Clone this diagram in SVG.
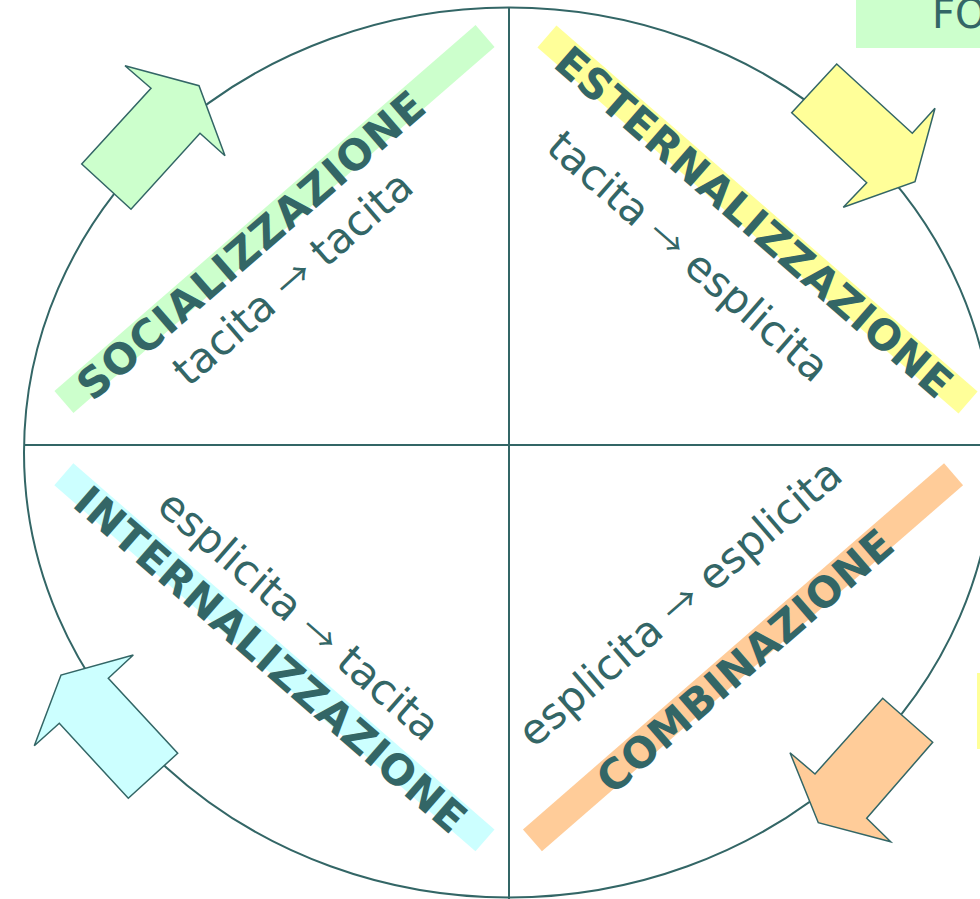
<svg xmlns="http://www.w3.org/2000/svg" width="980" height="899" viewBox="0 0 980 899">
<style>
.ln{stroke:#336666;stroke-width:2;fill:none}
.ar{stroke:#336666;stroke-width:1.5;stroke-linejoin:miter}
.b{font-family:"DejaVu Sans",Verdana,sans-serif;font-weight:bold;font-size:42px;fill:#336666}
.r{font-family:"DejaVu Sans",Verdana,sans-serif;font-size:42px;fill:#336666;text-anchor:middle}
.arw{font-family:"Noto Sans CJK SC",sans-serif;font-size:36px}
</style>
<rect width="980" height="899" fill="#ffffff"/>
<g id="frame">
<ellipse class="ln" cx="509" cy="452.5" rx="485" ry="445"/>
<line class="ln" x1="24" y1="445" x2="980" y2="445"/>
<line class="ln" x1="509" y1="7" x2="509" y2="899"/>
</g>
<g id="title">
<rect x="856" y="0" width="124" height="48" fill="#CCFFCC"/>
<text x="932" y="28" style="font-family:'DejaVu Sans',Verdana,sans-serif;font-size:40px;fill:#336666">FO</text>
</g>
<rect id="side-strip" x="977" y="673" width="3" height="76" fill="#FFFF99"/>
<g id="socializzazione" transform="translate(274.5,219) rotate(-41)">
<rect x="-279" y="-14.5" width="558" height="29" fill="#CCFFCC"/>
<text class="b" x="-257.5" y="19" textLength="445" lengthAdjust="spacing">SOCIALIZZAZIONE</text>
<text class="r" x="-25" y="71">tacita <tspan class="arw">→</tspan> tacita</text>
</g>
<g id="esternalizzazione" transform="translate(757.5,219.5) rotate(41)">
<rect x="-279" y="-14.5" width="558" height="29" fill="#FFFF99"/>
<text class="b" x="-256" y="19" textLength="510" lengthAdjust="spacing">ESTERNALIZZAZIONE</text>
<text class="r" x="-28" y="87.5">tacita <tspan class="arw">→</tspan> esplicita</text>
</g>
<g id="internalizzazione" transform="translate(274.4,657.3) rotate(41)">
<rect x="-279" y="-14.5" width="558" height="29" fill="#CCFFFF"/>
<text class="b" x="-253" y="19" textLength="503" lengthAdjust="spacing">INTERNALIZZAZIONE</text>
<text class="r" x="-9" y="-33.5">esplicita <tspan class="arw">→</tspan> tacita</text>
</g>
<g id="combinazione" transform="translate(743,657.3) rotate(-41)">
<rect x="-279" y="-14.5" width="558" height="29" fill="#FFCC99"/>
<text class="b" x="-189.5" y="19" textLength="377" lengthAdjust="spacing">COMBINAZIONE</text>
<text class="r" x="-12" y="-68">esplicita <tspan class="arw">→</tspan> esplicita</text>
</g>
<g id="connectors">
<polygon class="ar" fill="#CCFFCC" points="81.7,164 151,88.3 125,65.7 199,85.7 225,155.7 200,133.3 131,209.3"/>
<polygon class="ar" fill="#FFFF99" points="836.7,64 912.3,133.3 935,108.3 915,181.7 843.3,207.3 866.7,182.7 791.7,112.7"/>
<polygon class="ar" fill="#FFCC99" points="882.7,698.3 932.7,742.3 866.7,818.3 890.7,841.7 818.3,822.7 790,752.7 815,774"/>
<polygon class="ar" fill="#CCFFFF" points="133.3,655 61,675 34.3,745.7 59.3,723.3 128.3,798.3 177.7,753.3 108.3,678.3"/>
</g>
</svg>
